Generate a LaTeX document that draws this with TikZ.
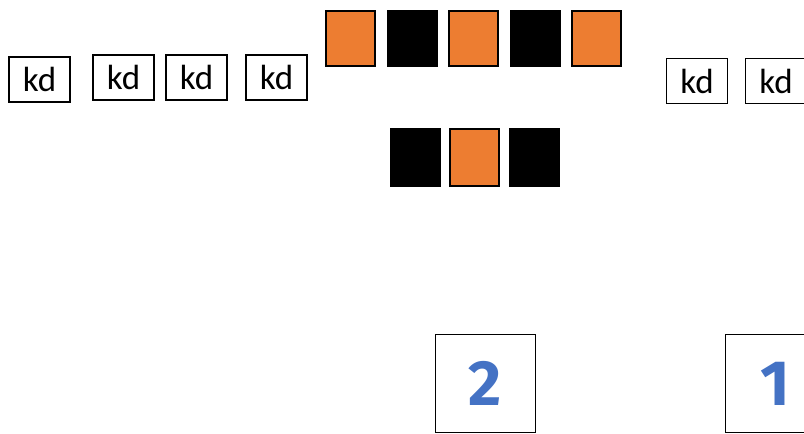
\documentclass[tikz,border=0pt]{standalone}
\usepackage{fontspec}
\setmainfont{Carlito}
\newfontfamily\digitfont{Fira Sans}
\usetikzlibrary{positioning}
\definecolor{tileorange}{HTML}{ED7D31}
\definecolor{digitblue}{HTML}{4472C4}
\begin{document}
\begin{tikzpicture}[x=1pt,y=-1pt]
      \tikzset{
        node distance=11.5pt,
        every node/.style={inner sep=0pt,outer sep=0pt},
        kdbox/.style={draw,line width=1.5pt,minimum width=61pt,minimum height=45pt,font=\fontsize{35}{35}\selectfont},
        orangetile/.style={draw=black,line width=2pt,fill=tileorange,minimum width=49pt,minimum height=55pt},
        blacktile/.style={fill=black,minimum width=51pt,minimum height=57pt},
        numbox/.style={draw,line width=1.5pt,minimum width=100pt,minimum height=98pt,text=digitblue,font=\digitfont\bfseries\fontsize{64}{64}\selectfont}
      }
      \useasboundingbox (0,0) rectangle (804,434);
      \clip (0,0) rectangle (804,434);

      \node[kdbox] (k1) at (39.5,79.5) {kd};
      \node[kdbox] (k2) at (123.5,77.5) {kd};
      \node[kdbox, right=12pt of k2] (k3) {kd};
      \node[kdbox, right=19pt of k3] (k4) {kd};
      \node[kdbox] (k5) at (697,81) {kd};
      \node[kdbox, right=18pt of k5] (k6) {kd};

      \node[orangetile] (t1) at (350.5,38.5) {};
      \node[blacktile, right=of t1] (t2) {};
      \node[orangetile, right=of t2] (t3) {};
      \node[blacktile, right=of t3] (t4) {};
      \node[orangetile, right=of t4] (t5) {};

      \node[blacktile, minimum height=59pt] (b1) at (415,157.5) {};
      \node[orangetile, minimum height=57pt, right=9.5pt of b1] (b2) {};
      \node[blacktile, minimum height=59pt, right=9.5pt of b2] (b3) {};

      \node[numbox] (n2) at (485.5,383.5) {2};
      \node[numbox, right=190pt of n2] (n1) {1};
    \end{tikzpicture}
\end{document}
